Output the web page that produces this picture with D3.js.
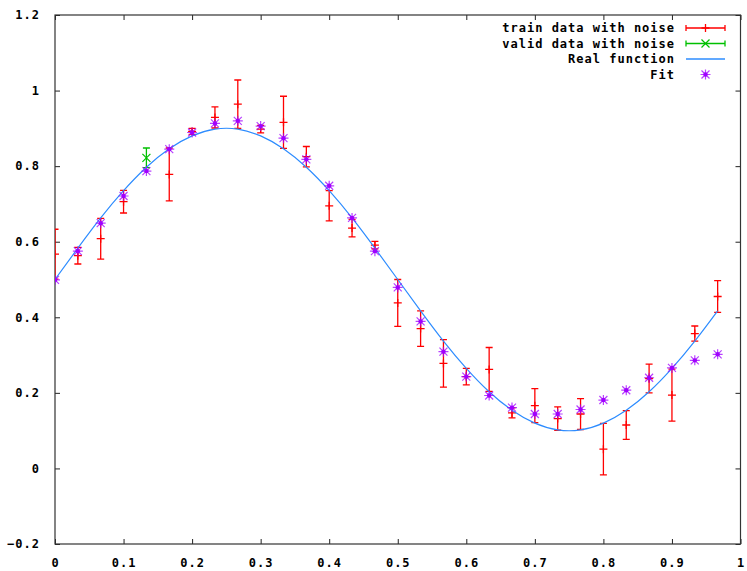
<!DOCTYPE html>
<html>
<head>
<meta charset="utf-8">
<script src="https://d3js.org/d3.v7.min.js"></script>
<style>
  body { margin: 0; background: #fff; }
  text { font-family: "DejaVu Sans Mono", monospace; font-weight: bold; font-size: 12px; letter-spacing: 1px; fill: #000; }
</style>
</head>
<body>
<script>
// Data

// sample positions: i/30, i = 0..29
var xs = d3.range(30).map(function(i) { return i / 30; });

// index of the single validation point
var validIndex = 4;

var trainY = [0.567, 0.563, 0.608, 0.706, null, 0.778, 0.892, 0.929, 0.964, 0.898,
              0.916, 0.825, 0.695, 0.636, 0.591, 0.438, 0.370, 0.278, 0.243, 0.262,
              0.147, 0.166, 0.132, 0.144, 0.051, 0.115, 0.238, 0.194, 0.357, 0.455];
var trainErr = [0.066, 0.022, 0.054, 0.030, null, 0.070, 0.008, 0.028, 0.064, 0.010,
                0.069, 0.027, 0.040, 0.023, 0.010, 0.062, 0.047, 0.063, 0.022, 0.058,
                0.013, 0.045, 0.031, 0.041, 0.068, 0.038, 0.038, 0.069, 0.020, 0.042];

var validY = [0.822];
var validErr = [0.026];

var realY = [0.500, 0.583, 0.663, 0.735, 0.797, 0.846, 0.880, 0.898, 0.898, 0.880,
             0.846, 0.797, 0.735, 0.663, 0.583, 0.500, 0.417, 0.337, 0.265, 0.203,
             0.154, 0.120, 0.102, 0.102, 0.120, 0.154, 0.203, 0.265, 0.337, 0.417];

var fitY = [0.499, 0.575, 0.649, 0.721, 0.787, 0.845, 0.889, 0.913, 0.920, 0.906,
            0.874, 0.818, 0.748, 0.663, 0.575, 0.479, 0.389, 0.309, 0.243, 0.193,
            0.161, 0.144, 0.144, 0.156, 0.181, 0.207, 0.240, 0.266, 0.286, 0.302];

var xTicks = [0, 0.1, 0.2, 0.3, 0.4, 0.5, 0.6, 0.7, 0.8, 0.9, 1];
var yTicks = [-0.2, 0, 0.2, 0.4, 0.6, 0.8, 1, 1.2];

var legendLabels = ["train data with noise", "valid data with noise", "Real function", "Fit"];

///////////////
// Make display
///////////////

var W = 747, H = 571;
var margin = {top: 15, right: 6.5, bottom: 27, left: 55};
var w = W - margin.left - margin.right,
    h = H - margin.top - margin.bottom;

var red = "#ff0000", green = "#00c000", blue = "#2d8cff", purple = "#a000ff";
var cap = 3.5;   // half width of error bar caps

var svg = d3.select("body").append("svg")
    .attr("width", W)
    .attr("height", H)
  .append("g")
    .attr("transform", "translate(" + margin.left + "," + margin.top + ")");

var x = d3.scaleLinear().domain([0, 1]).range([0, w]);
var y = d3.scaleLinear().domain([-0.2, 1.2]).range([h, 0]);

function fmt(d) { return d3.format("")(+d.toFixed(1)); }

// axes with inward ticks, mirrored on top/right
svg.append("g")
    .attr("transform", "translate(0," + h + ")")
    .call(d3.axisBottom(x).tickValues(xTicks).tickSize(-5).tickPadding(14).tickFormat(fmt));
svg.append("g")
    .call(d3.axisTop(x).tickValues(xTicks).tickSize(-5).tickFormat(""));
svg.append("g")
    .call(d3.axisLeft(y).tickValues(yTicks).tickSize(-5).tickPadding(15).tickFormat(fmt));
svg.append("g")
    .attr("transform", "translate(" + w + ",0)")
    .call(d3.axisRight(y).tickValues(yTicks).tickSize(-5).tickFormat(""));

svg.selectAll(".domain").remove();
svg.selectAll(".tick line").attr("stroke", "#222").attr("stroke-width", 1);
svg.selectAll(".tick text").attr("fill", "#000").style("font-family", "'DejaVu Sans Mono', monospace")
    .style("font-size", "12px").style("font-weight", "bold");

svg.append("rect")
    .attr("width", w).attr("height", h)
    .attr("fill", "none").attr("stroke", "#333").attr("stroke-width", 1.2);

// clip marks to the plot box
svg.append("clipPath").attr("id", "box")
  .append("rect").attr("width", w).attr("height", h);
var plot = svg.append("g").attr("clip-path", "url(#box)");

// error bar helper: vertical line, caps, centre tick
function errorBar(g, cx, cy, e, color) {
    var path = d3.path();
    path.moveTo(cx, y(cy + e)); path.lineTo(cx, y(cy - e));
    path.moveTo(cx - cap, y(cy + e)); path.lineTo(cx + cap, y(cy + e));
    path.moveTo(cx - cap, y(cy - e)); path.lineTo(cx + cap, y(cy - e));
    g.append("path").attr("d", path.toString())
        .attr("stroke", color).attr("stroke-width", 1.3).attr("fill", "none");
}

function plusMark(g, cx, cy, color) {
    g.append("path").attr("d", "M" + (cx - 4) + "," + cy + "H" + (cx + 4) + "M" + cx + "," + (cy - 4) + "V" + (cy + 4))
        .attr("stroke", color).attr("stroke-width", 1.3);
}

function crossMark(g, cx, cy, color) {
    g.append("path").attr("d", "M" + (cx - 4) + "," + (cy - 4) + "L" + (cx + 4) + "," + (cy + 4) +
            "M" + (cx - 4) + "," + (cy + 4) + "L" + (cx + 4) + "," + (cy - 4))
        .attr("stroke", color).attr("stroke-width", 1.2);
}

function starMark(g, cx, cy) {
    g.append("path").attr("d", "M" + (cx - 5) + "," + cy + "H" + (cx + 5) + "M" + cx + "," + (cy - 5) + "V" + (cy + 5) +
            "M" + (cx - 4) + "," + (cy - 4) + "L" + (cx + 4) + "," + (cy + 4) +
            "M" + (cx - 4) + "," + (cy + 4) + "L" + (cx + 4) + "," + (cy - 4))
        .attr("stroke", purple).attr("stroke-width", 1.2).attr("stroke-opacity", 0.75);
    g.append("circle").attr("cx", cx).attr("cy", cy).attr("r", 2.2).attr("fill", purple);
}

// train data
xs.forEach(function(xv, i) {
    if (trainY[i] === null) return;
    errorBar(plot, x(xv), trainY[i], trainErr[i], red);
    plusMark(plot, x(xv), y(trainY[i]), red);
});

// valid data
validY.forEach(function(v, j) {
    var xv = xs[validIndex];
    errorBar(plot, x(xv), v, validErr[j], green);
    crossMark(plot, x(xv), y(v), green);
});

// real function
plot.append("path")
    .datum(xs.map(function(xv, i) { return [xv, realY[i]]; }))
    .attr("d", d3.line().x(function(d) { return x(d[0]); }).y(function(d) { return y(d[1]); }).curve(d3.curveNatural))
    .attr("fill", "none").attr("stroke", blue).attr("stroke-width", 1.2);

// fit
xs.forEach(function(xv, i) { starMark(plot, x(xv), y(fitY[i])); });

// legend
var lx0 = 686 - margin.left, lx1 = 725 - margin.left, lmid = (lx0 + lx1) / 2;
var legend = svg.append("g");
legendLabels.forEach(function(label, i) {
    var ly = 28 - margin.top + i * 15.5;
    legend.append("text")
        .attr("x", 675 - margin.left).attr("y", ly)
        .attr("dy", "0.35em").attr("text-anchor", "end")
        .text(label);
    if (i === 0 || i === 1) {
        var col = i === 0 ? red : green;
        var p = d3.path();
        p.moveTo(lx0, ly); p.lineTo(lx1, ly);
        p.moveTo(lx0, ly - 3); p.lineTo(lx0, ly + 3);
        p.moveTo(lx1, ly - 3); p.lineTo(lx1, ly + 3);
        legend.append("path").attr("d", p.toString()).attr("stroke", col).attr("stroke-width", 1.3).attr("fill", "none");
        if (i === 0) plusMark(legend, lmid, ly, col); else crossMark(legend, lmid, ly, col);
    } else if (i === 2) {
        legend.append("line").attr("x1", lx0).attr("x2", lx1).attr("y1", ly).attr("y2", ly)
            .attr("stroke", blue).attr("stroke-width", 1.3);
    } else {
        starMark(legend, lmid, ly);
    }
});
</script>
</body>
</html>
